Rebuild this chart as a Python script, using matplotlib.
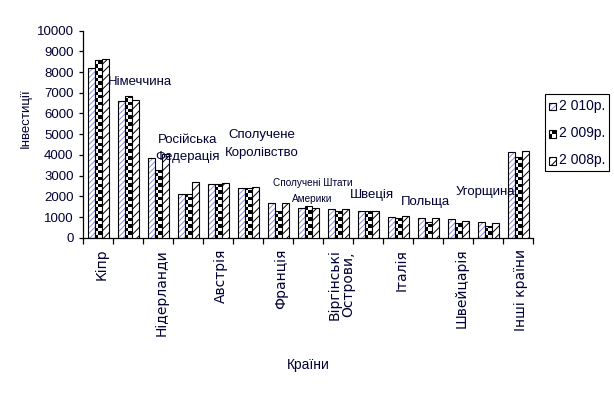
import numpy as np
import matplotlib
matplotlib.use("Agg")
import matplotlib.pyplot as plt
from matplotlib.patches import Patch, Rectangle
from matplotlib.legend_handler import HandlerBase
from matplotlib.transforms import ScaledTranslation

plt.rcParams["font.family"] = ["Liberation Sans Narrow", "Liberation Sans", "DejaVu Sans"]
plt.rcParams["hatch.linewidth"] = 0.7

TEXT_COLOR = "#000033"
BLUE_HATCH = "#8c8cf0"

countries = [
    "Кіпр", "Німеччина", "Нідерланди", "Російська\nФедерація", "Австрія",
    "Сполучене\nКоролівство", "Франція", "Сполучені Штати\nАмерики",
    "Віргінські\nОстрови,", "Швеція", "Італія", "Польща", "Швейцарія",
    "Угорщина", "Інші країни",
]
v2010 = [8180, 6590, 3835, 2110, 2595, 2385, 1680, 1420, 1385, 1280, 985, 935, 905, 760, 4140]
v2009 = [8585, 6845, 3255, 2095, 2595, 2385, 1285, 1520, 1280, 1280, 950, 775, 725, 565, 3910]
v2008 = [8630, 6650, 4030, 2690, 2640, 2450, 1680, 1420, 1385, 1280, 1050, 935, 820, 725, 4170]
series_labels = ["2 010р.", "2 009р.", "2 008р."]

# odd categories are written inside the plot instead of under the axis
# index: (x, y, fontsize, linespacing)
inside_labels = {
    1: (1.39, 7540, 9.5, 1.2),
    3: (2.99, 4320, 9.5, 1.6),
    5: (5.44, 4530, 9.5, 1.65),
    7: (7.14, 2260, 7.2, 1.8),
    9: (9.12, 2040, 9.5, 1.2),
    11: (10.91, 1725, 9.5, 1.2),
    13: (12.89, 2220, 9.5, 1.2),
}


def fill_checker(ax, bar, cell_px=3.4):
    x0, w, h = bar.get_x(), bar.get_width(), bar.get_height()
    p0 = ax.transData.transform((x0, 0))
    p1 = ax.transData.transform((x0 + w, h))
    hpx = p1[1] - p0[1]
    nrows = max(1, int(np.ceil(hpx / cell_px)))
    grid = np.indices((nrows, 2)).sum(axis=0) % 2
    top = nrows * cell_px * h / hpx
    im = ax.imshow(grid, cmap="gray", extent=(x0, x0 + w, 0, top), origin="lower",
                   aspect="auto", interpolation="nearest", zorder=2)
    im.set_clip_path(bar)


class SwatchHandler(HandlerBase):
    """Small legend square: hatched or 2x2 checker, with a black border."""

    def __init__(self, hatch=None, hatch_color="black", checker=False):
        super().__init__()
        self.hatch = hatch
        self.hatch_color = hatch_color
        self.checker = checker

    def create_artists(self, legend, orig, xd, yd, w, h, fs, trans):
        arts = []
        if self.checker:
            for i in range(2):
                for j in range(2):
                    c = "black" if (i + j) % 2 == 0 else "white"
                    arts.append(Rectangle((xd + j * w / 2, yd + i * h / 2), w / 2, h / 2,
                                          facecolor=c, edgecolor="none", transform=trans))
        else:
            arts.append(Rectangle((xd, yd), w, h, facecolor="white",
                                  edgecolor=self.hatch_color, lw=0, hatch=self.hatch,
                                  transform=trans))
        arts.append(Rectangle((xd, yd), w, h, facecolor="none", edgecolor="black",
                              lw=0.8, transform=trans))
        return arts


fig = plt.figure(figsize=(6.14, 3.97), dpi=100)
ax = fig.add_axes([83.3 / 614, 1 - 237.7 / 397, 450 / 614, 207 / 397])

x = np.arange(len(countries))
bw = 0.227
ax.set_xlim(-0.5, len(countries) - 0.5)
ax.set_ylim(0, 10000)

ax.bar(x - bw, v2010, bw, facecolor="white", edgecolor=BLUE_HATCH, linewidth=0,
       hatch="//////", zorder=2)
ax.bar(x - bw, v2010, bw, fill=False, edgecolor="black", linewidth=0.8, zorder=3)
b09 = ax.bar(x, v2009, bw, facecolor="none", edgecolor="black", linewidth=0.8, zorder=3)
ax.bar(x + bw, v2008, bw, facecolor="white", edgecolor="black", linewidth=0.8,
       hatch="////", zorder=3)

for bar in b09:
    fill_checker(ax, bar)

ax.set_xlim(-0.5, len(countries) - 0.5)
ax.set_ylim(0, 10000)

for s in ["top", "right"]:
    ax.spines[s].set_visible(False)
for s in ["left", "bottom"]:
    ax.spines[s].set_linewidth(0.9)

ax.set_yticks(np.arange(0, 10001, 1000))
ax.tick_params(axis="y", length=3, width=0.9, pad=4, labelsize=9.5, labelcolor=TEXT_COLOR)

ax.set_xticks(np.arange(-0.5, len(countries), 1))
ax.set_xticklabels([])
ax.tick_params(axis="x", which="major", length=4, width=0.9)
ax.set_xticks(x, minor=True)
ax.set_xticklabels([c if i % 2 == 0 else "" for i, c in enumerate(countries)], minor=True,
                   rotation=90, va="top", ha="center", fontfamily="DejaVu Sans",
                   fontsize=10, color=TEXT_COLOR, linespacing=1.0)
ax.tick_params(axis="x", which="minor", length=0, pad=8)
shift = ScaledTranslation(3 / 100, 0, fig.dpi_scale_trans)
for lab in ax.get_xticklabels(minor=True):
    lab.set_transform(lab.get_transform() + shift)

for i, (tx, ty, fs, ls) in inside_labels.items():
    ax.text(tx, ty, countries[i], ha="center", va="center", fontsize=fs,
            linespacing=ls, color=TEXT_COLOR, zorder=5)

ax.set_ylabel("Інвестиції", fontsize=9.5, color=TEXT_COLOR)
ax.yaxis.label.set_va("center")
ax.yaxis.set_label_coords(-0.127, 0.578)
ax.set_xlabel("Країни", fontsize=10, color=TEXT_COLOR)
ax.xaxis.label.set_va("center")
ax.xaxis.set_label_coords(0.499, -0.615)

handles = [Patch(label=lab) for lab in series_labels]
handler_map = {
    handles[0]: SwatchHandler(hatch="//////", hatch_color=BLUE_HATCH),
    handles[1]: SwatchHandler(checker=True),
    handles[2]: SwatchHandler(hatch="////", hatch_color="black"),
}
leg = fig.legend(handles, series_labels, loc="center",
                 bbox_to_anchor=(577 / 614, 1 - 132.7 / 397),
                 bbox_transform=fig.transFigure, fontsize=10,
                 handlelength=0.5, handleheight=0.5, handletextpad=0.2,
                 labelspacing=0.95, borderpad=0.3, borderaxespad=0,
                 fancybox=False, edgecolor="black", framealpha=1,
                 handler_map=handler_map)
leg.get_frame().set_linewidth(0.8)
for t in leg.get_texts():
    t.set_color(TEXT_COLOR)

fig.savefig("out.png", dpi=100)
